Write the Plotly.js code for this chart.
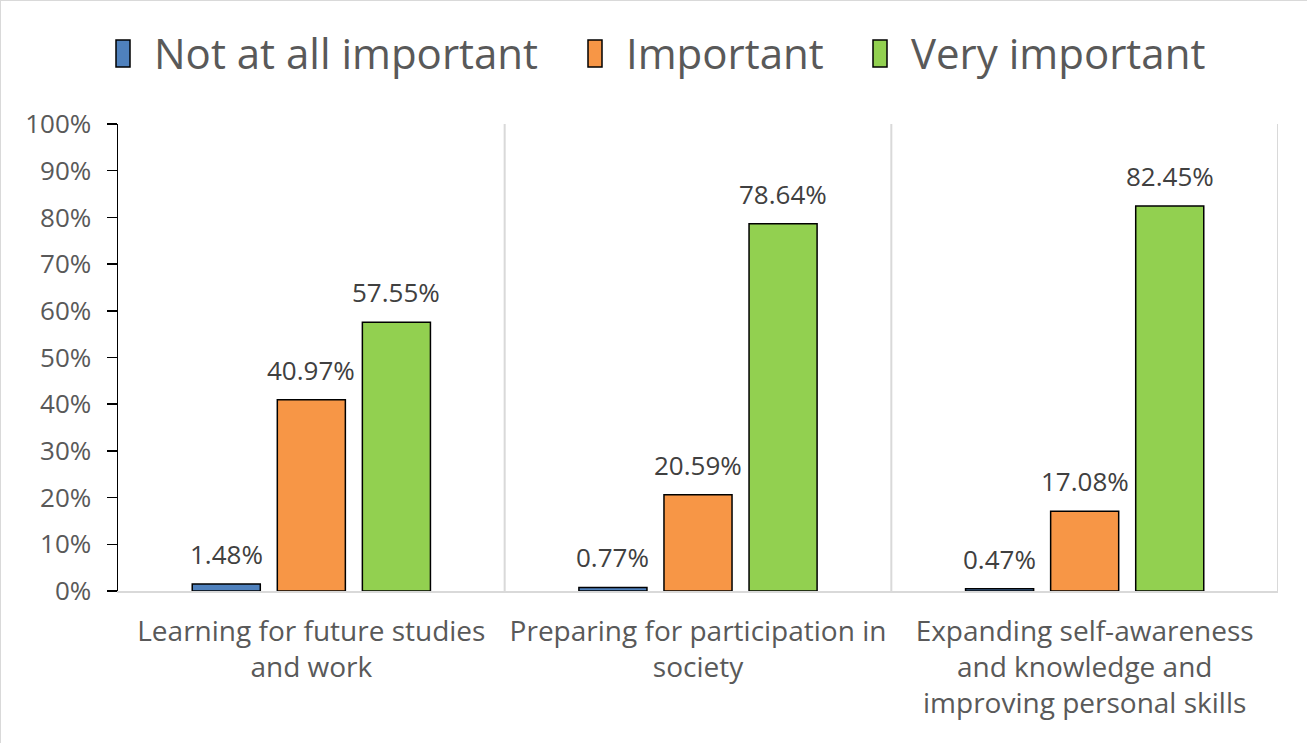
<!DOCTYPE html>
<html>
<head>
<meta charset="utf-8">
<script src="https://cdn.plot.ly/plotly-3.0.1.min.js"></script>
<style>html,body{margin:0;padding:0;background:#fff;}#chart{width:1307px;height:743px;}</style>
</head>
<body>
<div id="chart"></div>
<script>
// ---- data ----
const categories = [
  "Learning for future studies<br>and work",
  "Preparing for participation in<br>society",
  "Expanding self-awareness<br>and knowledge and<br>improving personal skills"
];
const seriesNames = ["Not at all important", "Important", "Very important"];
const notAtAll = [1.48, 0.77, 0.47];
const important = [40.97, 20.59, 17.08];
const veryImportant = [57.55, 78.64, 82.45];
const yTickVals = [0, 10, 20, 30, 40, 50, 60, 70, 80, 90, 100];
const yTickText = ["0%", "10%", "20%", "30%", "40%", "50%", "60%", "70%", "80%", "90%", "100%"];

// ---- style ----
const colors = ["#4F81BD", "#F79646", "#92D050"];
const W = 1307, H = 743;
const M = {l: 118, r: 29, t: 124, b: 152};
const plotW = W - M.l - M.r, plotH = H - M.t - M.b;
const BARGAP = 0.34, BARGROUPGAP = 0.2;
const FONT = "Open Sans, Noto Sans, sans-serif";

const seriesValues = [notAtAll, important, veryImportant];

const traces = seriesValues.map((vals, i) => ({
  type: "bar",
  name: seriesNames[i],
  x: categories,
  y: vals,
  marker: {color: colors[i], line: {color: "#000000", width: 1.5}},
  hoverinfo: "skip"
}));

// helpers: pixel -> paper
const px = x => (x - M.l) / plotW;
const py = y => (H - M.b - y) / plotH;

const annotations = [];
const shapes = [];

// data labels
const catW = plotW / categories.length;
const slot = catW * (1 - BARGAP) / seriesValues.length;
seriesValues.forEach((vals, i) => {
  vals.forEach((v, j) => {
    annotations.push({
      x: categories[j], y: v, xref: "x", yref: "y",
      xshift: (i - (seriesValues.length - 1) / 2) * slot,
      yshift: 10, yanchor: "bottom", xanchor: "center",
      text: v.toFixed(2) + "%", showarrow: false,
      font: {family: FONT, size: 26, color: "#404040"}
    });
  });
});

// category separators
[0.5, 1.5, 2.5].forEach(xv => {
  shapes.push({type: "line", xref: "x", yref: "y", x0: xv, x1: xv, y0: 0, y1: 100,
    line: {color: "#D9D9D9", width: 2}, layer: "below"});
});

// custom legend
const legendX = [116, 588, 873];
seriesNames.forEach((n, i) => {
  shapes.push({type: "rect", xref: "paper", yref: "paper",
    x0: px(legendX[i]), x1: px(legendX[i] + 14), y0: py(67), y1: py(40),
    fillcolor: colors[i], line: {color: "#000000", width: 1.5}});
  annotations.push({xref: "paper", yref: "paper", x: px(legendX[i] + 36), y: py(53),
    xanchor: "left", yanchor: "middle", text: n, showarrow: false,
    font: {family: FONT, size: 42, color: "#595959"}});
});

// outer border (top/left)
shapes.push({type: "line", xref: "paper", yref: "paper", x0: px(0), x1: px(W), y0: py(0.5), y1: py(0.5), line: {color: "#D9D9D9", width: 1}});
shapes.push({type: "line", xref: "paper", yref: "paper", x0: px(0.5), x1: px(0.5), y0: py(0), y1: py(H), line: {color: "#D9D9D9", width: 1}});

const layout = {
  width: W, height: H,
  margin: M,
  paper_bgcolor: "#ffffff", plot_bgcolor: "#ffffff",
  barmode: "group", bargap: BARGAP, bargroupgap: BARGROUPGAP,
  showlegend: false,
  font: {family: FONT, color: "#595959"},
  xaxis: {
    type: "category", range: [-0.5, 2.5],
    showline: true, linecolor: "#D9D9D9", linewidth: 2,
    ticks: "", showgrid: false, zeroline: false,
    ticklabelstandoff: 14,
    tickfont: {family: FONT, size: 28, color: "#595959"},
    automargin: false
  },
  yaxis: {
    range: [0, 100], tickvals: yTickVals, ticktext: yTickText,
    showline: true, linecolor: "#000000", linewidth: 1.5,
    ticks: "outside", ticklen: 10, tickwidth: 1.5, tickcolor: "#000000",
    showgrid: false, zeroline: false,
    ticklabelstandoff: 10,
    tickfont: {family: FONT, size: 26, color: "#595959"},
    automargin: false
  },
  annotations: annotations,
  shapes: shapes
};

Plotly.newPlot("chart", traces, layout, {displayModeBar: false, staticPlot: true});
</script>
</body>
</html>
